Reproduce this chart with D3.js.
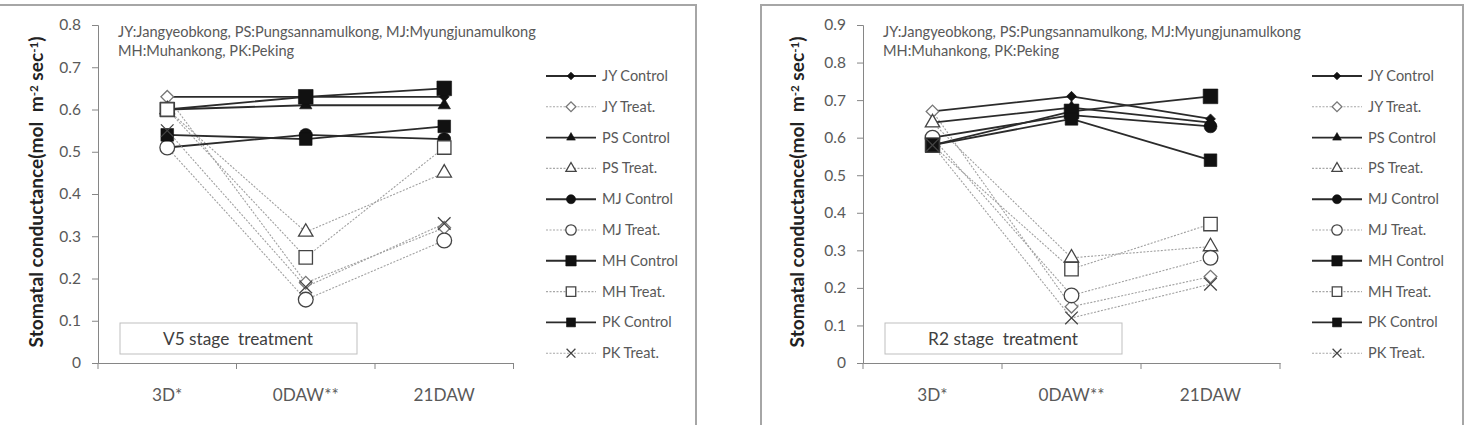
<!DOCTYPE html>
<html><head><meta charset="utf-8">
<script src="https://cdn.jsdelivr.net/npm/d3@7"></script>
<style>
body{margin:0;background:#fff;}
svg{display:block;}
text{font-family:Lato,"Open Sans",sans-serif;}
</style></head><body>
<svg id="chart" width="1473" height="425"></svg>
<script>
// ---------- data ----------
const categories = ["3D*", "0DAW**", "21DAW"];
const seriesNames = ["JY Control","JY Treat.","PS Control","PS Treat.","MJ Control","MJ Treat.","MH Control","MH Treat.","PK Control","PK Treat."];
const seriesKinds = ["control","treat","control","treat","control","treat","control","treat","control","treat"];
const seriesShapes = ["diamond","diamond","triangle","triangle","circle","circle","square","square","squareSmall","cross"];
const annotationLines = ["JY:Jangyeobkong, PS:Pungsannamulkong, MJ:Myungjunamulkong", "MH:Muhankong, PK:Peking"];

const v5Ticks = [0, 0.1, 0.2, 0.3, 0.4, 0.5, 0.6, 0.7, 0.8];
const v5Label = "V5 stage  treatment";
const v5Values = [
  [0.63, 0.63, 0.63], // JY Control
  [0.63, 0.19, 0.32], // JY Treat.
  [0.60, 0.61, 0.61], // PS Control
  [0.60, 0.31, 0.45], // PS Treat.
  [0.51, 0.54, 0.53], // MJ Control
  [0.51, 0.15, 0.29], // MJ Treat.
  [0.60, 0.63, 0.65], // MH Control
  [0.60, 0.25, 0.51], // MH Treat.
  [0.54, 0.53, 0.56], // PK Control
  [0.55, 0.18, 0.33]  // PK Treat.
];

const r2Ticks = [0, 0.1, 0.2, 0.3, 0.4, 0.5, 0.6, 0.7, 0.8, 0.9];
const r2Label = "R2 stage  treatment";
const r2Values = [
  [0.67, 0.71, 0.65], // JY Control
  [0.67, 0.15, 0.23], // JY Treat.
  [0.64, 0.68, 0.64], // PS Control
  [0.64, 0.28, 0.31], // PS Treat.
  [0.60, 0.66, 0.63], // MJ Control
  [0.60, 0.18, 0.28], // MJ Treat.
  [0.58, 0.67, 0.71], // MH Control
  [0.58, 0.25, 0.37], // MH Treat.
  [0.58, 0.65, 0.54], // PK Control
  [0.58, 0.12, 0.21]  // PK Treat.
];

// ---------- drawing ----------
const svg = d3.select("#chart");
const TEXT = "#595959", AXIS = "#868686";

// scale a text's font so that it spans the wanted width
function fitFont(sel, base, target) {
  sel.style("font-size", base + "px");
  const w = sel.node().getComputedTextLength();
  const f = base * target / w;
  sel.style("font-size", f + "px");
  return f;
}

function symbolPath(shape, kind, legend) {
  const k = legend ? 0.5 : 1;
  let type, size, rot = 0;
  if (shape === "diamond") { type = d3.symbolSquare; size = (kind === "control" ? 50 : 80) * (legend ? 0.6 : 1); rot = 45; }
  else if (shape === "triangle") { type = d3.symbolTriangle; size = (kind === "control" ? 66 : 90) * k; }
  else if (shape === "circle") { type = d3.symbolCircle; size = (kind === "control" ? 130 : 170) * k; }
  else if (shape === "square") { type = d3.symbolSquare; size = (kind === "control" ? 215 : 180) * k; }
  else if (shape === "squareSmall") { type = d3.symbolSquare; size = 160 * k; }
  else { type = d3.symbolX; size = 105 * k; }
  return { d: d3.symbol().type(type).size(size)(), rot };
}

function styleMarker(sel, shape, kind) {
  if (kind === "control") sel.attr("fill", "#111").attr("stroke", "#111").attr("stroke-width", 0.6);
  else sel.attr("fill", shape === "cross" ? "none" : "#fff")
          .attr("stroke", shape === "diamond" ? "#777" : "#444").attr("stroke-width", 1.3);
}

function drawPanel(cfg) {
  const g = svg.append("g");
  g.append("path").attr("d", cfg.frame).attr("fill", "none").attr("stroke", "#a6a6a6").attr("stroke-width", 2);

  const x = d3.scaleBand().domain(categories).range([cfg.x0, cfg.x0 + 3 * cfg.step]);
  const y = d3.scaleLinear().domain([0, d3.max(cfg.ticks)]).range([cfg.yBottom, cfg.yTop]);

  // y axis
  const ya = g.append("g").attr("transform", `translate(${cfg.x0},0)`)
    .call(d3.axisLeft(y).tickValues(cfg.ticks).tickSize(6).tickPadding(11).tickFormat(d3.format("~g")));
  ya.select(".domain").attr("stroke", AXIS);
  ya.selectAll(".tick line").attr("stroke", AXIS);
  ya.selectAll("text").attr("fill", TEXT).style("font-size", "15.5px").style("font-family", "Lato");

  // x axis: labels centred, ticks at category boundaries
  const xa = g.append("g").attr("transform", `translate(0,${cfg.yBottom})`)
    .call(d3.axisBottom(x).tickSize(0).tickPadding(26));
  xa.select(".domain").attr("stroke", AXIS);
  xa.selectAll("text").attr("fill", TEXT).style("font-family", "Lato");
  const catF = fitFont(xa.selectAll("text").filter(d => d === "0DAW**"), 15, 66);
  xa.selectAll("text").style("font-size", catF + "px");
  const bounds = categories.map(c => x(c)).concat([x.range()[1]]);
  g.selectAll(".xt").data(bounds).join("line")
    .attr("x1", d => d).attr("x2", d => d).attr("y1", cfg.yBottom).attr("y2", cfg.yBottom + 6)
    .attr("stroke", AXIS);

  // y axis title
  const t = g.append("text").attr("transform", `translate(${cfg.titleX},192) rotate(-90)`)
    .attr("text-anchor", "middle").attr("fill", "#222").style("font-weight", "bold");
  t.append("tspan").text("Stomatal conductance(mol\u00a0\u00a0m");
  t.append("tspan").attr("dy", "-0.4em").style("font-size", "0.6em").text("-2");
  t.append("tspan").attr("dy", "0.24em").text(" sec");
  t.append("tspan").attr("dy", "-0.4em").style("font-size", "0.6em").text("-1");
  t.append("tspan").attr("dy", "0.24em").text(")");
  fitFont(t, 15, 311);

  // annotation
  const ann = g.selectAll(".ann").data(annotationLines).join("text")
    .attr("x", cfg.x0 + 20).attr("y", (d, i) => 37 + i * 19)
    .attr("fill", TEXT).text(d => d);
  const annF = fitFont(ann.filter((d, i) => i === 0), 13, 418);
  ann.style("font-size", annF + "px");

  // stage label box
  g.append("rect").attr("x", cfg.x0 + 22).attr("y", 323).attr("width", 237).attr("height", 31)
    .attr("fill", "#fff").attr("stroke", "#bfbfbf");
  const sl = g.append("text").attr("x", cfg.x0 + 22 + 118).attr("y", 344.5).attr("text-anchor", "middle")
    .attr("fill", "#404040").style("white-space", "pre").text(cfg.label);
  fitFont(sl, 15, 150);

  // lines
  const line = d3.line().x((d, i) => x(categories[i]) + x.bandwidth() / 2).y(d => y(d));
  cfg.values.forEach((vals, s) => {
    const ctl = seriesKinds[s] === "control";
    g.append("path").attr("d", line(vals)).attr("fill", "none")
      .attr("stroke", ctl ? "#2b2b2b" : "#a0a0a0").attr("stroke-width", ctl ? 1.9 : 1.1)
      .attr("stroke-dasharray", ctl ? null : "2,1.5");
  });
  // markers
  cfg.values.forEach((vals, s) => {
    const shape = seriesShapes[s], kind = seriesKinds[s];
    const sp = symbolPath(shape, kind, false);
    const m = g.selectAll(null).data(vals).join("path")
      .attr("d", sp.d)
      .attr("transform", (d, i) => `translate(${x(categories[i]) + x.bandwidth() / 2},${y(d)}) rotate(${sp.rot})`);
    styleMarker(m, shape, kind);
  });

  // legend
  const lg = g.append("g");
  let legF = null;
  seriesNames.forEach((name, s) => {
    const yy = 76 + s * 30.8;
    const ctl = seriesKinds[s] === "control";
    lg.append("line").attr("x1", cfg.legX).attr("x2", cfg.legX + 50).attr("y1", yy).attr("y2", yy)
      .attr("stroke", ctl ? "#2b2b2b" : "#a8a8a8").attr("stroke-width", ctl ? 1.9 : 1.1)
      .attr("stroke-dasharray", ctl ? null : "2,1.5");
    const sp = symbolPath(seriesShapes[s], seriesKinds[s], true);
    const m = lg.append("path").attr("d", sp.d)
      .attr("transform", `translate(${cfg.legX + 25},${yy}) rotate(${sp.rot})`);
    styleMarker(m, seriesShapes[s], seriesKinds[s]);
    const tx = lg.append("text").attr("x", cfg.legX + 56).attr("y", yy + 5).attr("fill", TEXT).text(name);
    if (legF === null) legF = fitFont(tx, 14, 66);
    tx.style("font-size", legF + "px");
  });
}

drawPanel({
  frame: "M-2,5H696V426", x0: 98, step: 138.5, yTop: 25, yBottom: 363, ticks: v5Ticks,
  values: v5Values, label: v5Label, titleX: 43, legX: 546
});
drawPanel({
  frame: "M761,426V5H1463V426", x0: 863, step: 139, yTop: 25, yBottom: 363, ticks: r2Ticks,
  values: r2Values, label: r2Label, titleX: 804, legX: 1312
});
</script>
</body></html>
